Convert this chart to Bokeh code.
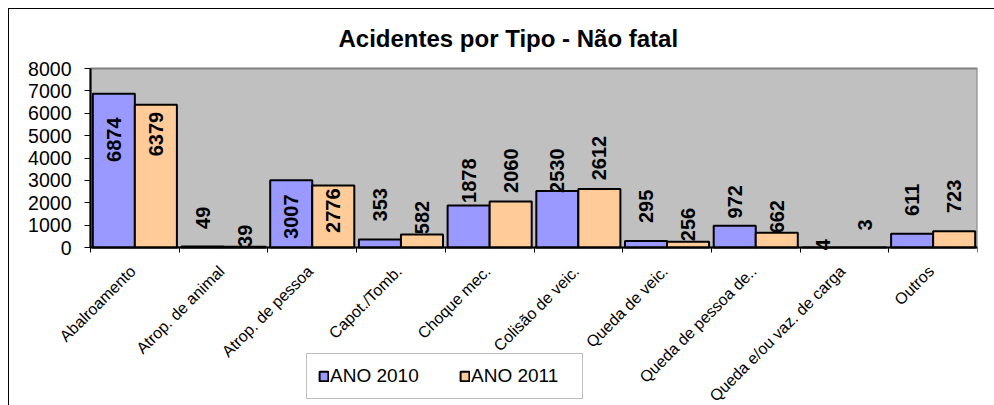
from math import pi
from bokeh.plotting import figure
from bokeh.models import (Range1d, FixedTicker, LinearAxis, Legend, LegendItem,
                          Label, ColumnDataSource)
from bokeh.core.properties import value
from bokeh.embed import file_html
from bokeh.resources import INLINE

# ---------------- data ----------------
categories = ["Abalroamento", "Atrop. de animal", "Atrop. de pessoa", "Capot./Tomb.",
              "Choque mec.", "Colisão de veic.", "Queda de veic.", "Queda de pessoa de..",
              "Queda e/ou vaz. de carga", "Outros"]
ano_2010 = [6874, 49, 3007, 353, 1878, 2530, 295, 972, 4, 611]
ano_2011 = [6379, 39, 2776, 582, 2060, 2612, 256, 662, 3, 723]
series_names = ["ANO 2010", "ANO 2011"]
y_ticks = [0, 1000, 2000, 3000, 4000, 5000, 6000, 7000, 8000]
y_max = 8000
title_text = "Acidentes por Tipo - Não fatal"
caption_text = "Gráfico 5"

# label placement (pixels of the label centre above the bar top)
label_shift_2010 = [-46, 28.6, -36.5, 34.8, 24.8, 20.2, 34.5, 24, 2.6, 34]
label_shift_2011 = [-29.3, 10.8, -25.3, 17, 30.7, 31, 17.3, 16, 22.6, 35]

# ---------------- layout / styles ----------------
FONT = "Liberation Sans"
C2010 = "#9999FF"
C2011 = "#FFCC99"
BAR_W = 0.474
BAR_OFF = 0.237
W, H = 994, 405
FRAME_L, FRAME_R, FRAME_T = 20, 977, 52      # canvas pixels of the drawing frame
PLOT_TOP = 68                                # pixel where y_max falls
AXIS_X, AXIS_Y = 90, 247                     # pixel where x=0 / y=0 fall
n = len(categories)
px_per_cat = (FRAME_R - AXIS_X) / n
px_per_unit = (AXIS_Y - PLOT_TOP) / y_max
x_start = -(AXIS_X - FRAME_L) / px_per_cat
y_start = -(H - AXIS_Y) / px_per_unit
y_end = y_max + (PLOT_TOP - FRAME_T) / px_per_unit

centers = [i + 0.5 for i in range(n)]
bounds = [float(i) for i in range(n + 1)]

# outer chart frame lines drawn as a CSS background behind a transparent canvas
frame_css = ("linear-gradient(#000,#000) 8px 8px / 1px 100% no-repeat, "
             "linear-gradient(#000,#000) 8px 8px / 100% 1px no-repeat, #ffffff")

p = figure(width=W, height=H, output_backend="svg", toolbar_location=None,
           x_range=Range1d(x_start, n), y_range=Range1d(y_start, y_end),
           min_border_left=FRAME_L, min_border_right=W - FRAME_R,
           min_border_top=FRAME_T, min_border_bottom=0,
           x_axis_location=None, y_axis_location=None,
           styles={"background": frame_css})
p.background_fill_color = "white"
p.background_fill_alpha = 0
p.border_fill_alpha = 0
p.outline_line_alpha = 0
p.xgrid.visible = False
p.ygrid.visible = False

# title
p.title.text = title_text
p.title.align = "left"
p.title.offset = 338 - FRAME_L
p.title.text_font = FONT
p.title.text_font_size = "24px"
p.title.text_font_style = "bold"
p.title.text_color = "black"
p.title.standoff = 18 - (PLOT_TOP - FRAME_T)

# grey plot area spanning the category and value ranges
p.quad(left=[0], right=[n], bottom=[0], top=[y_max], fill_color="#C0C0C0",
       line_color="#808080", line_width=2, level="underlay")

# value axis (line + ticks); its numbers are drawn as text below
yaxis = LinearAxis(ticker=FixedTicker(ticks=y_ticks, minor_ticks=[]),
                   fixed_location=0, bounds=(0, y_max))
yaxis.major_label_overrides = {t: "" for t in y_ticks}
yaxis.major_label_standoff = 0
yaxis.axis_line_color = "black"
yaxis.axis_line_width = 2
yaxis.major_tick_out = 6
yaxis.major_tick_in = 0
yaxis.minor_tick_out = 0
p.add_layout(yaxis, "left")

# category axis: baseline with ticks at the category boundaries
xaxis = LinearAxis(ticker=FixedTicker(ticks=[], minor_ticks=bounds),
                   fixed_location=0, bounds=(0, n))
xaxis.axis_line_color = "black"
xaxis.axis_line_width = 2
xaxis.major_tick_out = 0
xaxis.major_tick_in = 0
xaxis.minor_tick_out = 0
xaxis.minor_tick_in = 5
xaxis.minor_tick_line_color = "black"
p.add_layout(xaxis, "above")

# bars
src10 = ColumnDataSource(dict(x=[c - BAR_OFF for c in centers], top=ano_2010,
                              lab=[str(v) for v in ano_2010],
                              yoff=[-s for s in label_shift_2010]))
src11 = ColumnDataSource(dict(x=[c + BAR_OFF for c in centers], top=ano_2011,
                              lab=[str(v) for v in ano_2011],
                              yoff=[-s for s in label_shift_2011]))
r10 = p.vbar(x="x", top="top", bottom=0, width=BAR_W, source=src10,
             fill_color=C2010, line_color="black", line_width=2)
r11 = p.vbar(x="x", top="top", bottom=0, width=BAR_W, source=src11,
             fill_color=C2011, line_color="black", line_width=2)

# value labels on the bars
for src in (src10, src11):
    p.text(x="x", y="top", text="lab", source=src, angle=pi / 2, y_offset="yoff",
           text_align="center", text_baseline="middle", text_font=value(FONT),
           text_font_style="bold", text_font_size="20px", text_color="black")

# value-axis numbers
ysrc = ColumnDataSource(dict(x=[0] * len(y_ticks), y=y_ticks,
                             t=[str(v) for v in y_ticks]))
p.text(x="x", y="y", text="t", source=ysrc, x_offset=-19, text_align="right",
       text_baseline="middle", text_font=value(FONT), text_font_size="19.5px",
       text_color="black")

# category names, slanted
csrc = ColumnDataSource(dict(x=centers, y=[0] * n, t=categories))
p.text(x="x", y="y", text="t", source=csrc, angle=pi / 4, x_offset=-2, y_offset=21,
       text_align="right", text_baseline="middle", text_font=value(FONT),
       text_font_size="16px", text_color="black")

# legend (inside the drawing frame)
legend = Legend(items=[LegendItem(label=series_names[0], renderers=[r10]),
                       LegendItem(label=series_names[1], renderers=[r11])],
                orientation="horizontal", location=(306 - FRAME_L, H - 399))
legend.glyph_width = 11
legend.glyph_height = 12
legend.label_standoff = 1
legend.label_width = 100
legend.spacing = 29
legend.padding = 11
legend.label_height = 20
legend.label_text_font = FONT
legend.label_text_font_size = "19px"
legend.label_text_color = "black"
legend.border_line_color = "#808080"
legend.border_line_width = 1
legend.background_fill_color = "white"
legend.background_fill_alpha = 1
p.add_layout(legend, "center")

# caption above the chart, mostly cut by the top edge as in the source
cap = Label(x=17, y=5.5, x_units="canvas", y_units="canvas", text=caption_text,
            text_font=FONT, text_font_size="26px", text_color="black",
            text_baseline="alphabetic")
p.add_layout(cap)

open("out.html", "w").write(file_html(p, INLINE))
